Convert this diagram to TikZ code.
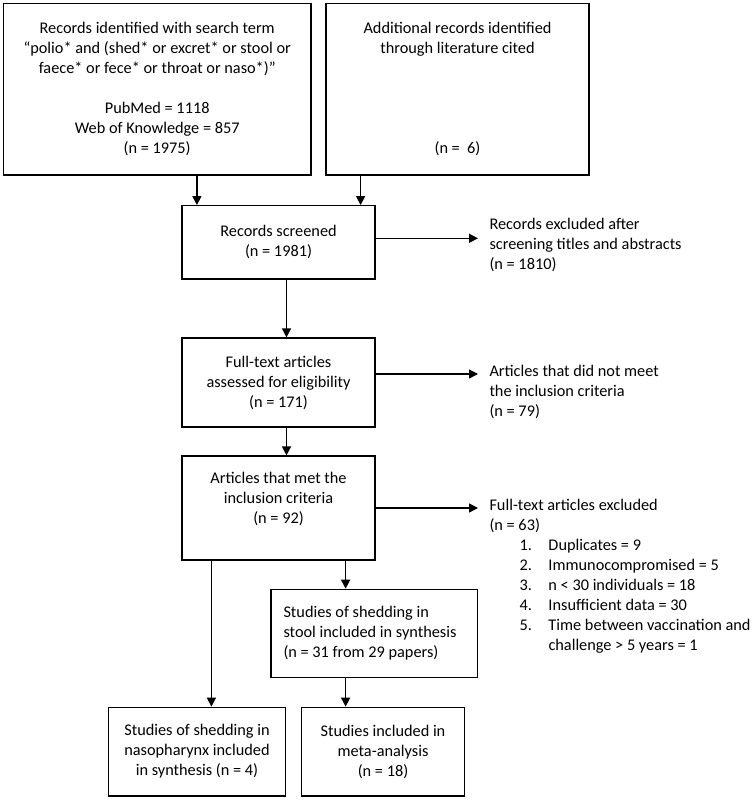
\documentclass[tikz,border=0pt]{standalone}
\usepackage{fontspec}
\setmainfont{Carlito}
\usetikzlibrary{arrows.meta, positioning}

\begin{document}
\begin{tikzpicture}[x=1pt, y=-1pt,
    box/.style = {draw, line width=1.2pt, align=center, inner sep=2pt,
        font=\fontsize{16.3}{20}\selectfont},
    note/.style = {align=flush left, anchor=west, inner sep=0pt,
        font=\fontsize{16.3}{20}\selectfont},
    arr/.style = {line width=1.4pt, -{Triangle[length=9pt, width=9pt]}}]
    % \draw [help lines] (0,0) grid[step=50] (754,800);
    \useasboundingbox (0,0) rectangle (754,800);
    \node (rec) [box, minimum width=307.7, minimum height=171.7] at (157.2,89.2)
        {Records identified with search term\\
         “polio* and (shed* or excret* or stool or\\
         faece* or fece* or throat or naso*)”\\[20pt]
         PubMed = 1118\\
         Web of Knowledge = 857\\
         (n = 1975)};
    \node (add) [box, minimum width=263, minimum height=171.7] at (457.5,89.2)
        {Additional records identified\\
         through literature cited\\[80pt]
         (n = \ 6)};
    \node (scr) [box, minimum width=193, minimum height=73.3] at (278.5,242.3)
        {Records screened\\(n = 1981)};
    \node (ft) [box, minimum width=193, minimum height=89] at (278.5,382.5)
        {Full-text articles\\assessed for eligibility\\(n = 171)};
    \node (met) [box, minimum width=193, minimum height=104] at (278.5,508)
        {Articles that met the\\inclusion criteria\\(n = 92)\\ \mbox{}};
    \node (stool) [box, align=flush left, text width=181, inner xsep=12.6pt,
        minimum height=88.4] at (374,633.5)
        {Studies of shedding in\\stool included in synthesis\\(n = 31 from 29 papers)};
    \node (naso) [box, minimum width=177.4, minimum height=88.7] at (197,751.6)
        {Studies of shedding in\\nasopharynx included\\in synthesis (n = 4)};
    \node (meta) [box, minimum width=163, minimum height=88.7] at (383,751.6)
        {Studies included in\\meta-analysis\\(n = 18)};

    \node (ex1) [note] at (489.3,244.5)
        {Records excluded after\\screening titles and abstracts\\(n = 1810)};
    \node (ex2) [note] at (489.3,392)
        {Articles that did not meet\\the inclusion criteria\\(n = 79)};
    \node (ex3) [note] at (489.3,576.5)
        {Full-text articles excluded\\
         (n = 63)\\
         \hspace*{30pt}\makebox[29pt][l]{1.}Duplicates = 9\\
         \hspace*{30pt}\makebox[29pt][l]{2.}Immunocompromised = 5\\
         \hspace*{30pt}\makebox[29pt][l]{3.}n < 30 individuals = 18\\
         \hspace*{30pt}\makebox[29pt][l]{4.}Insufficient data = 30\\
         \hspace*{30pt}\makebox[29pt][l]{5.}Time between vaccination and\\
         \hspace*{59pt}challenge > 5 years = 1};

    \coordinate (inA) at ([xshift=15.5pt]scr.north west);
    \coordinate (inB) at ([xshift=-15pt]scr.north east);
    \coordinate (mL) at ([xshift=30pt]met.south west);
    \coordinate (mR) at ([xshift=-30pt]met.south east);

    \draw [arr] (rec.south -| inA) -- (inA);
    \draw [arr] (add.south -| inB) -- (inB);
    \draw [arr] ([xshift=8pt]scr.south) -- ([xshift=8pt]ft.north);
    \draw [arr] ([xshift=8pt]ft.south) -- ([xshift=8pt]met.north);
    \draw [arr, shorten >=11.3pt] ([yshift=4pt]scr.east) -- ([yshift=4pt]scr.east -| ex1.west);
    \draw [arr, shorten >=11.3pt] ([yshift=8.5pt]ft.east) -- ([yshift=8.5pt]ft.east -| ex2.west);
    \draw [arr, shorten >=11.3pt] (met.east) -- (met.east -| ex3.west);
    \draw [arr] (mL) -- (mL |- naso.north);
    \draw [arr] (mR) -- (mR |- stool.north);
    \draw [arr] (mR |- stool.south) -- (mR |- meta.north);
\end{tikzpicture}
\end{document}
